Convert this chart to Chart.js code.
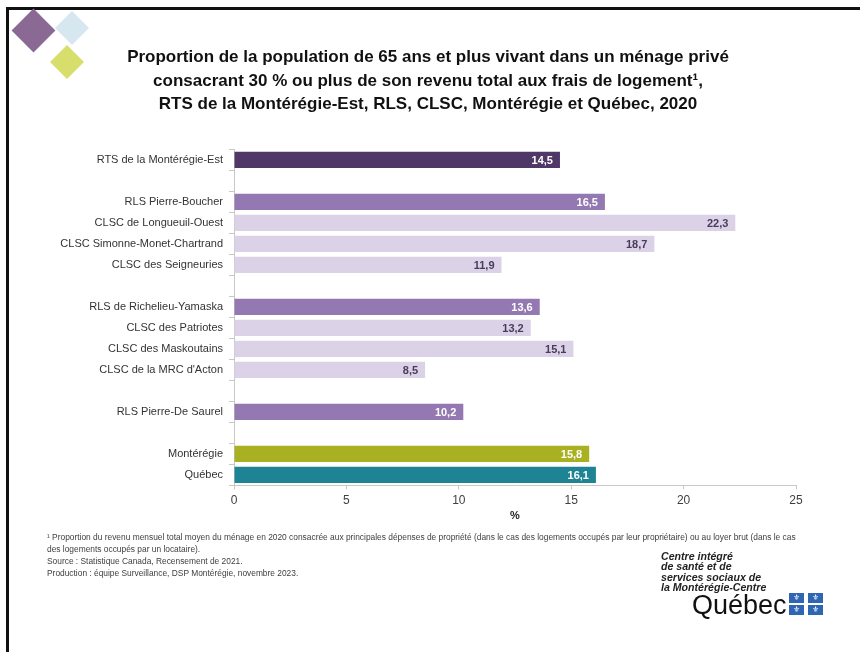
<!DOCTYPE html>
<html lang="fr">
<head>
<meta charset="utf-8">
<script src="https://cdn.jsdelivr.net/npm/chart.js@4.4.1/dist/chart.umd.min.js"></script>
<style>
  html, body { margin: 0; padding: 0; background: #fff; }
  #page { position: relative; width: 860px; height: 652px; overflow: hidden; background: #fff; }
  #page canvas { position: absolute; left: 0; top: 0; }
  .frame-top { position: absolute; left: 6px; top: 7px; width: 860px; height: 3px; background: #111; }
  .frame-left { position: absolute; left: 6px; top: 7px; width: 3px; height: 660px; background: #111; }
  .diamond { position: absolute; transform: rotate(45deg); }
  .notes { position: absolute; left: 47px; top: 531px; width: 790px; white-space: nowrap;
    font: 8.4px 'Liberation Sans', sans-serif; color: #404040; line-height: 12px; }
  .logo { position: absolute; left: 661px; top: 551px; font: bold italic 10.6px 'Liberation Sans', sans-serif;
    color: #222; line-height: 10.3px; }
  .qc { position: absolute; left: 692px; top: 592px; font: 27px 'Liberation Sans', sans-serif; line-height: 27px; color: #111; }
  .flag { position: absolute; width: 15px; height: 10px; background: #2f66b3; color: #fff;
    font: 8px 'DejaVu Sans', sans-serif; text-align: center; line-height: 10px; }
</style>
</head>
<body>
<div id="page">
  <canvas id="chart" width="860" height="652"></canvas>
  <div class="frame-top"></div>
  <div class="frame-left"></div>
  <div class="diamond" style="left:18px;top:15px;width:31px;height:31px;background:#8a6a95;"></div>
  <div class="diamond" style="left:60px;top:16px;width:24px;height:24px;background:#d6e7ef;"></div>
  <div class="diamond" style="left:55px;top:50px;width:24px;height:24px;background:#d8de6c;"></div>
  <div class="notes">
    ¹ Proportion du revenu mensuel total moyen du ménage en 2020 consacrée aux principales dépenses de propriété (dans le cas des logements occupés par leur propriétaire) ou au loyer brut (dans le cas<br>
    des logements occupés par un locataire).<br>
    Source : Statistique Canada, Recensement de 2021.<br>
    Production : équipe Surveillance, DSP Montérégie, novembre 2023.
  </div>
  <div class="logo">Centre intégré<br>de santé et de<br>services sociaux de<br>la Montérégie-Centre</div>
  <div class="qc">Québec</div>
  <div class="flag" style="left:789px;top:593px;">⚜</div>
  <div class="flag" style="left:808px;top:593px;">⚜</div>
  <div class="flag" style="left:789px;top:605px;">⚜</div>
  <div class="flag" style="left:808px;top:605px;">⚜</div>
</div>
<script>
const FONT = "'Liberation Sans', sans-serif";

// Territories, top to bottom ('' = empty spacer row)
const categories = [
  'RTS de la Montérégie-Est',
  '',
  'RLS Pierre-Boucher',
  'CLSC de Longueuil-Ouest',
  'CLSC Simonne-Monet-Chartrand',
  'CLSC des Seigneuries',
  '',
  'RLS de Richelieu-Yamaska',
  'CLSC des Patriotes',
  'CLSC des Maskoutains',
  "CLSC de la MRC d'Acton",
  '',
  'RLS Pierre-De Saurel',
  '',
  'Montérégie',
  'Québec',
];

// % of 65+ spending 30 % or more of income on housing
const values = [14.5, null, 16.5, 22.3, 18.7, 11.9, null, 13.6, 13.2, 15.1, 8.5, null, 10.2, null, 15.8, 16.1];

// level of each row: rts, rls, clsc, region, province
const levels = ['rts', '', 'rls', 'clsc', 'clsc', 'clsc', '', 'rls', 'clsc', 'clsc', 'clsc', '', 'rls', '', 'mont', 'qc'];

const xTicks = [0, 5, 10, 15, 20, 25];

const titleLines = [
  'Proportion de la population de 65 ans et plus vivant dans un ménage privé',
  'consacrant 30 % ou plus de son revenu total aux frais de logement¹,',
  'RTS de la Montérégie-Est, RLS, CLSC, Montérégie et Québec, 2020',
];

const COLORS = { rts: '#4f3768', rls: '#9478b2', clsc: '#dbd2e7', mont: '#a9b022', qc: '#1e8393', '': '#fff' };
const LABEL_COLORS = { rts: '#fff', rls: '#fff', clsc: '#4a3b5c', mont: '#fff', qc: '#fff', '': '#fff' };

// value labels drawn inside the end of each bar
const valueLabels = {
  id: 'valueLabels',
  afterDatasetsDraw(chart) {
    const { ctx } = chart;
    const meta = chart.getDatasetMeta(0);
    ctx.save();
    ctx.font = 'bold 11px ' + FONT;
    ctx.textAlign = 'right';
    ctx.textBaseline = 'middle';
    meta.data.forEach((bar, i) => {
      if (values[i] == null) return;
      ctx.fillStyle = LABEL_COLORS[levels[i]];
      ctx.fillText(values[i].toFixed(1).replace('.', ','), bar.x - 7, bar.y + 1);
    });
    ctx.restore();
  },
};

new Chart(document.getElementById('chart'), {
  type: 'bar',
  data: {
    labels: categories,
    datasets: [{
      data: values,
      backgroundColor: levels.map(l => COLORS[l]),
      borderWidth: 0,
      barPercentage: 0.77,
      categoryPercentage: 1,
    }],
  },
  options: {
    indexAxis: 'y',
    responsive: false,
    animation: false,
    layout: { padding: { top: 46, left: 60, right: 64, bottom: 126 } },
    plugins: {
      legend: { display: false },
      tooltip: { enabled: false },
      title: {
        display: true,
        text: titleLines,
        color: '#111',
        font: { family: FONT, size: 17, weight: 'bold', lineHeight: 1.38 },
        padding: { top: 0, bottom: 33 },
      },
    },
    scales: {
      x: {
        min: 0,
        max: 25,
        afterBuildTicks(axis) { axis.ticks = xTicks.map(v => ({ value: v })); },
        ticks: { color: '#404040', font: { family: FONT, size: 12 }, padding: 4, maxRotation: 0 },
        grid: { display: true, drawOnChartArea: false, tickLength: 4, color: '#c8c8c8' },
        border: { color: '#c8c8c8' },
        title: { display: true, text: '%', color: '#222', font: { family: FONT, size: 11, weight: 'bold' }, padding: { top: -2, bottom: 3 } },
      },
      y: {
        afterFit(axis) { axis.width = 174; },
        ticks: { color: '#333', font: { family: FONT, size: 11 }, padding: 6, autoSkip: false },
        grid: { display: true, drawOnChartArea: false, offset: true, tickLength: 5, color: '#c8c8c8' },
        border: { color: '#c8c8c8' },
      },
    },
  },
  plugins: [valueLabels],
});
</script>
</body>
</html>
